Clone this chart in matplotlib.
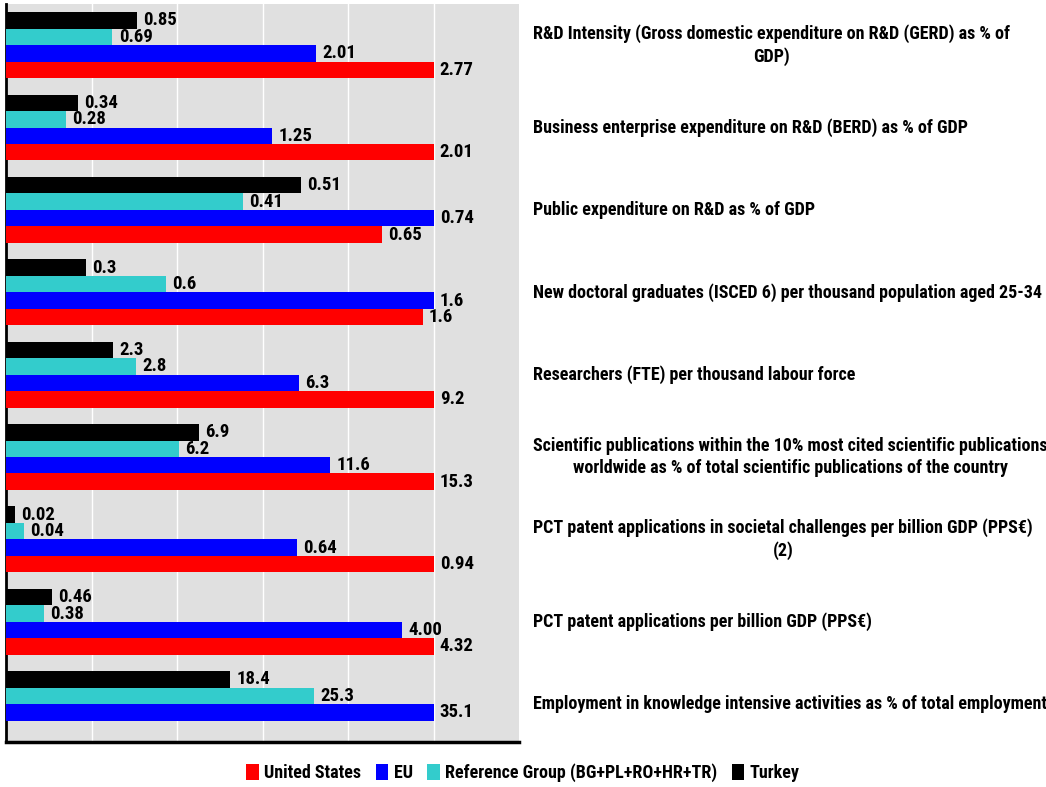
import numpy as np
import matplotlib.pyplot as plt
from matplotlib.patches import Patch

indicators = [
    "R&D Intensity (Gross domestic expenditure on R&D (GERD) as % of\nGDP)",
    "Business enterprise expenditure on R&D (BERD) as % of GDP",
    "Public expenditure on R&D as % of GDP",
    "New doctoral graduates (ISCED 6) per thousand population aged 25-34",
    "Researchers (FTE) per thousand labour force",
    "Scientific publications within the 10% most cited scientific publications\nworldwide as % of total scientific publications of the country",
    "PCT patent applications in societal challenges per billion GDP (PPS\u20ac)\n(2)",
    "PCT patent applications per billion GDP (PPS\u20ac)",
    "Employment in knowledge intensive activities as % of total employment",
]

us = [2.77, 2.01, 0.65, 1.56, 9.2, 15.3, 0.94, 4.32, np.nan]
eu = [2.01, 1.25, 0.74, 1.6, 6.3, 11.6, 0.64, 4.00, 35.1]
ref_group = [0.69, 0.28, 0.41, 0.6, 2.8, 6.2, 0.04, 0.38, 25.3]
turkey = [0.85, 0.34, 0.51, 0.3, 2.3, 6.9, 0.02, 0.46, 18.4]
decimals = [2, 2, 2, 1, 1, 1, 2, 2, 1]

series_names = ["United States", "EU", "Reference Group (BG+PL+RO+HR+TR)", "Turkey"]
colors = ["#FF0000", "#0000FF", "#33CCCC", "#000000"]

plt.rcParams["font.family"] = ["Roboto Condensed", "DejaVu Sans"]
plt.rcParams["font.weight"] = "bold"

# each indicator is scaled to its own maximum so the groups share one axis
data = np.array([us, eu, ref_group, turkey])
group_max = np.nanmax(data, axis=0)
scaled = data / group_max

fig = plt.figure(figsize=(10.46, 7.87), dpi=100)
ax = fig.add_axes([6 / 1046, 1 - 742 / 787, 513 / 1046, 738 / 787])
ax.set_facecolor("#E0E0E0")

groups = np.arange(len(indicators))
# top to bottom inside a group: Turkey, Reference, EU, US
offsets = [0.3, 0.1, -0.1, -0.3]
bar_h = 0.2

for k in range(4):
    y = groups + offsets[k]
    ax.barh(y, scaled[k], height=bar_h, color=colors[k], zorder=3)
    for i in groups:
        v = data[k, i]
        if np.isnan(v):
            continue
        ax.annotate(f"{v:.{decimals[i]}f}", xy=(scaled[k, i], y[i]),
                    xytext=(4.5, 0), textcoords="offset points",
                    ha="left", va="center", fontsize=13.5, fontweight="bold",
                    zorder=4)

ax.set_xlim(0, 1.2)
ax.set_ylim(8.46, -0.5)
ax.set_xticks(np.arange(0.2, 1.2, 0.2))
ax.set_yticks([])
ax.tick_params(axis="x", length=0, labelbottom=False)
ax.grid(axis="x", color="white", linewidth=1, zorder=1)
for side in ["top", "right"]:
    ax.spines[side].set_visible(False)
ax.spines["left"].set_linewidth(2)
ax.spines["bottom"].set_linewidth(2.5)

for i, label in enumerate(indicators):
    ax.text(1.2 + 14 / 427, i, label, ha="left", va="center",
            multialignment="center", fontsize=13, fontweight="bold",
            linespacing=1.3, clip_on=False)

handles = [Patch(facecolor=c, edgecolor="none") for c in colors]
fig.legend(handles, series_names, loc="center",
           bbox_to_anchor=(0.5, 1 - 773 / 787), ncol=4, frameon=False,
           prop={"size": 13, "weight": "bold"}, handlelength=0.7,
           handleheight=1.0, handletextpad=0.3, columnspacing=0.8)

fig.savefig("out.png", dpi=100)
